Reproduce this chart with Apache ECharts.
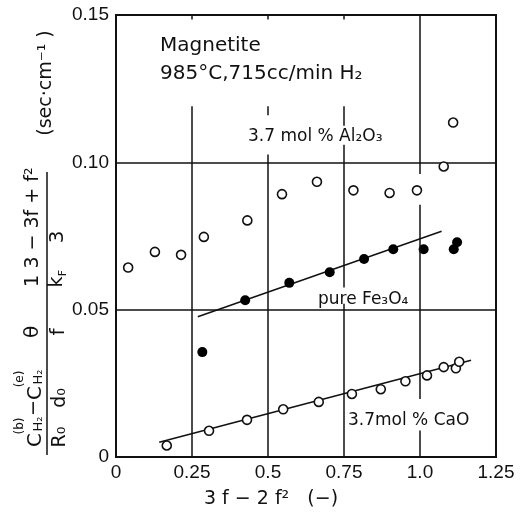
<!DOCTYPE html>
<html>
<head>
<meta charset="utf-8">
<script src="https://cdn.jsdelivr.net/npm/echarts@6/dist/echarts.min.js"></script>
<style>
  html, body { margin: 0; padding: 0; background: #fff; }
  #chart { width: 522px; height: 514px; }
</style>
</head>
<body>
<div id="chart"></div>
<script>
// values
var xTickLabels = ['0', '0.25', '0.5', '0.75', '1.0', '1.25'];
var yTickLabels = ['0', '0.05', '0.10', '0.15'];

// 3.7 mol% Al2O3 (open circles, upper)
var al2o3X = [0.040, 0.128, 0.214, 0.289, 0.432, 0.546, 0.661, 0.781, 0.900, 0.990, 1.078, 1.109];
var al2o3Y = [0.0643, 0.0696, 0.0686, 0.0747, 0.0803, 0.0892, 0.0934, 0.0905, 0.0896, 0.0905, 0.0986, 0.1135];

// pure Fe3O4 (filled circles)
var pureX = [0.284, 0.425, 0.570, 0.703, 0.816, 0.912, 1.012, 1.111, 1.122];
var pureY = [0.0356, 0.0532, 0.0591, 0.0627, 0.0672, 0.0705, 0.0705, 0.0705, 0.0729];
var pureFitX = [0.269, 1.071];
var pureFitY = [0.0476, 0.0766];

// 3.7 mol% CaO (open circles, lower)
var caoX = [0.167, 0.306, 0.431, 0.550, 0.667, 0.776, 0.871, 0.952, 1.023, 1.078, 1.118, 1.129];
var caoY = [0.0039, 0.0089, 0.0126, 0.0162, 0.0187, 0.0214, 0.0230, 0.0257, 0.0277, 0.0305, 0.0301, 0.0323];
var caoFitX = [0.142, 1.168];
var caoFitY = [0.0050, 0.0328];

// vertical grid pieces (x, yFrom, yTo) – the original leaves gaps around the labels
var vGridX    = [0.25, 0.25, 0.5, 0.5, 0.5, 0.75, 0.75, 0.75, 0.75, 1.0, 1.0, 1.0];
var vGridFrom = [0.1485, 0.119, 0.1485, 0.119, 0.1027, 0.119, 0.106, 0.0520, 0.150, 0.150, 0.0856, 0.0090];
var vGridTo   = [0.150, 0, 0.150, 0.116, 0, 0.1124, 0.0575, 0, 0.1485, 0.096, 0.0197, 0];

function zip(xs, ys) {
    return xs.map(function (x, i) { return [x, ys[i]]; });
}

var vSegs = vGridX.map(function (x, i) {
    return [{ coord: [x, vGridFrom[i]] }, { coord: [x, vGridTo[i]] }];
});

var chart = echarts.init(document.getElementById('chart'));

var tickFont = 'Liberation Sans';
var txtFont = 'DejaVu Sans';
var ink = '#111';

// rotated pieces of the y-axis title
function rtxt(x, y, text, size) {
    return {
        type: 'text', x: x, y: y, rotation: Math.PI / 2, silent: true,
        style: {
            text: text, fill: ink,
            font: size + 'px "' + txtFont + '"',
            textAlign: 'center', textVerticalAlign: 'middle',
            align: 'center', verticalAlign: 'middle'
        }
    };
}
function htxt(x, y, text, size) {
    return {
        type: 'text', x: x, y: y, silent: true,
        style: {
            text: text, fill: ink,
            font: size + 'px "' + txtFont + '"',
            textAlign: 'left', textVerticalAlign: 'middle',
            align: 'left', verticalAlign: 'middle'
        }
    };
}

var option = {
    backgroundColor: '#fff',
    animation: false,
    grid: {
        left: 116, right: 26, top: 15, bottom: 50,
        show: true, borderColor: ink, borderWidth: 2
    },
    xAxis: {
        type: 'value', min: 0, max: 1.25, interval: 0.25,
        name: '3 f − 2 f²   (−)',
        nameLocation: 'middle', nameGap: 33,
        nameTextStyle: { fontFamily: txtFont, fontSize: 19, color: ink, padding: [0, 70, 0, 0] },
        axisLine: { show: true, lineStyle: { color: ink, width: 2 } },
        axisTick: { show: false },
        splitLine: { show: false },
        axisLabel: {
            margin: 6, fontFamily: tickFont, fontSize: 19, color: ink,
            formatter: function (v, i) { return xTickLabels[i]; }
        }
    },
    yAxis: {
        type: 'value', min: 0, max: 0.15, interval: 0.05,
        axisLine: { show: true, lineStyle: { color: ink, width: 2 } },
        axisTick: { show: false },
        splitLine: { show: true, lineStyle: { color: ink, width: 1.5 } },
        axisLabel: {
            margin: 7, fontFamily: tickFont, fontSize: 19, color: ink,
            formatter: function (v, i) { return yTickLabels[i]; }
        }
    },
    series: [
        {
            name: 'grid', type: 'line', data: [], silent: true,
            markLine: {
                silent: true, symbol: 'none', animation: false,
                label: { show: false },
                lineStyle: { color: ink, width: 1.5, type: 'solid' },
                data: vSegs
            }
        },
        {
            name: 'Fe3O4 fit', type: 'line', data: zip(pureFitX, pureFitY),
            symbol: 'none', lineStyle: { color: ink, width: 1.5 }, z: 3
        },
        {
            name: 'CaO fit', type: 'line', data: zip(caoFitX, caoFitY),
            symbol: 'none', lineStyle: { color: ink, width: 1.5 }, z: 3
        },
        {
            name: '3.7mol% Al2O3', type: 'scatter', data: zip(al2o3X, al2o3Y),
            symbol: 'circle', symbolSize: 9, z: 4,
            itemStyle: { color: '#fff', borderColor: ink, borderWidth: 1.6, opacity: 1 }
        },
        {
            name: 'pure Fe3O4', type: 'scatter', data: zip(pureX, pureY),
            symbol: 'circle', symbolSize: 10, z: 4,
            itemStyle: { color: '#000', opacity: 1 }
        },
        {
            name: '3.7mol% CaO', type: 'scatter', data: zip(caoX, caoY),
            symbol: 'circle', symbolSize: 9, z: 4,
            itemStyle: { color: '#fff', borderColor: ink, borderWidth: 1.6, opacity: 1 }
        }
    ],
    graphic: [
        htxt(160, 46, 'Magnetite', 20),
        htxt(160, 74, '985°C,715cc/min H₂', 20),
        htxt(248, 137, '3.7 mol % Al₂O₃', 17),
        htxt(318, 300, 'pure Fe₃O₄', 17),
        htxt(348, 421, '3.7mol % CaO', 17),

        // y title: (C_H2(b) - C_H2(e)) / (R0 d0) · θ/f · 1/kF · (3-3f+f²)/3   (sec·cm⁻¹)
        rtxt(36, 440, 'C', 20),
        rtxt(20, 426, '(b)', 12),
        rtxt(39, 424, 'H₂', 13),
        rtxt(34, 408, '−', 19),
        rtxt(36, 393, 'C', 20),
        rtxt(20, 379, '(e)', 12),
        rtxt(39, 377, 'H₂', 13),
        rtxt(60, 437, 'R₀', 19),
        rtxt(60, 398, 'd₀', 19),
        rtxt(33, 332, 'θ', 20),
        rtxt(59, 332, 'f', 20),
        rtxt(33, 281, '1', 20),
        rtxt(57, 282, 'k', 19),
        rtxt(63, 273, 'F', 11),
        rtxt(33, 218, '3 − 3f + f²', 19),
        rtxt(58, 237, '3', 20),
        rtxt(46, 83, '(sec·cm⁻¹ )', 19),
        {
            type: 'line', silent: true,
            shape: { x1: 47, y1: 172, x2: 47, y2: 455 },
            style: { stroke: ink, lineWidth: 1.5 }
        }
    ]
};

chart.setOption(option);
</script>
</body>
</html>
